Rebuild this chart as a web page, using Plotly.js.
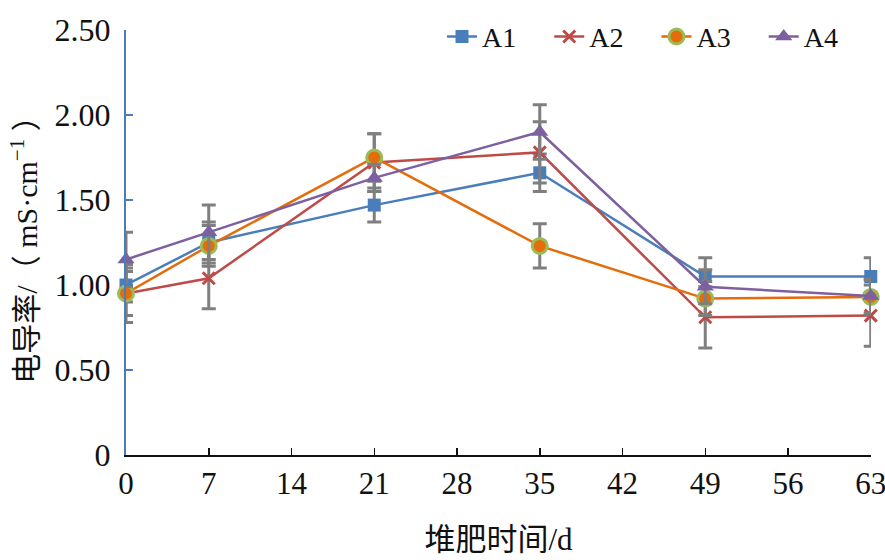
<!DOCTYPE html>
<html>
<head>
<meta charset="utf-8">
<script src="https://cdn.plot.ly/plotly-3.0.1.min.js"></script>
<style>
  body { margin: 0; background: #fff; }
  #chart { width: 885px; height: 560px; }
</style>
</head>
<body>
<div id="chart"></div>
<script>
// composting days
const days = [0, 7, 21, 35, 49, 63];

// conductivity per treatment, mS/cm
const a1 = [1.00, 1.25, 1.47, 1.66, 1.05, 1.05];
const a2 = [0.95, 1.04, 1.72, 1.78, 0.81, 0.82];
const a3 = [0.95, 1.23, 1.75, 1.23, 0.92, 0.93];
const a4 = [1.15, 1.31, 1.63, 1.90, 0.99, 0.935];

// standard deviations
const a1Err = [0.10, 0.12, 0.10, 0.11, 0.11, 0.11];
const a2Err = [0.13, 0.18, 0.17, 0.18, 0.18, 0.18];
const a3Err = [0.17, 0.12, 0.14, 0.13, 0.10, 0.10];
const a4Err = [0.16, 0.16, 0.08, 0.16, 0.10, 0.10];

const xTicks = [0, 7, 14, 21, 28, 35, 42, 49, 56, 63];
const yTicks = [0, 0.5, 1, 1.5, 2, 2.5];
const yTickText = ['0', '0.50', '1.00', '1.50', '2.00', '2.50'];

const serif = 'Times New Roman, Liberation Serif, DejaVu Serif, Noto Sans CJK SC, serif';
// trailing gap so the legend entries spread out like the original
const pad = '&nbsp;&nbsp;&nbsp;&nbsp;';

function errBars(arr) {
  return {
    type: 'data', array: arr, visible: true,
    color: '#7f7f7f', thickness: 3, width: 7
  };
}

function series(name, y, err, line, marker) {
  return {
    x: days, y: y, name: name + pad,
    type: 'scatter', mode: 'lines+markers',
    line: line, marker: marker,
    error_y: errBars(err),
    cliponaxis: false
  };
}

const data = [
  series('A1', a1, a1Err, {color: '#4a7ebb', width: 2.5},
    {symbol: 'square', size: 13, color: '#4a7ebb'}),
  series('A2', a2, a2Err, {color: '#be4b48', width: 2.5},
    {symbol: 'x-thin', size: 12, color: '#be4b48', line: {color: '#be4b48', width: 3}}),
  series('A3', a3, a3Err, {color: '#e46c0a', width: 2.5},
    {symbol: 'circle', size: 15, color: '#e46c0a', line: {color: '#9bbb59', width: 3}}),
  series('A4', a4, a4Err, {color: '#7d60a0', width: 2.5},
    {symbol: 'triangle-up', size: 15, color: '#7d60a0'})
];

const layout = {
  width: 885, height: 560,
  margin: {l: 126, r: 14, t: 21, b: 105},
  paper_bgcolor: '#fff', plot_bgcolor: '#fff',
  font: {family: serif, size: 30, color: '#111'},
  showlegend: true,
  legend: {
    orientation: 'h', x: 1.0, xanchor: 'right', y: 0.984, yanchor: 'middle',
    font: {family: serif, size: 28, color: '#111'},
    bgcolor: 'rgba(255,255,255,0)', itemwidth: 30, tracegroupgap: 0
  },
  xaxis: {
    range: [0, 63.02], tickvals: xTicks, ticks: 'inside', ticklen: 7,
    tickcolor: '#111', tickwidth: 1.5, ticklabeloverflow: 'allow',
    showline: true, linecolor: '#111', linewidth: 2,
    showgrid: false, zeroline: false,
    tickfont: {family: serif, size: 31, color: '#111'},
    title: {text: '堆肥时间/d', font: {family: serif, size: 31, color: '#111'}, standoff: 28}
  },
  yaxis: {
    range: [0, 2.5], tickvals: yTicks, ticktext: yTickText,
    ticks: 'inside', ticklen: 7, tickcolor: '#4a7ebb', tickwidth: 1.5,
    ticklabelstandoff: 7,
    showline: true, linecolor: '#4a7ebb', linewidth: 2,
    showgrid: false, zeroline: false,
    tickfont: {family: serif, size: 32, color: '#111'},
    title: {text: '电导率/（ mS·cm<sup>−1</sup> ）', font: {family: serif, size: 30, color: '#111'}, standoff: 8}
  }
};

Plotly.newPlot('chart', data, layout, {displayModeBar: false, staticPlot: true});
</script>
</body>
</html>
